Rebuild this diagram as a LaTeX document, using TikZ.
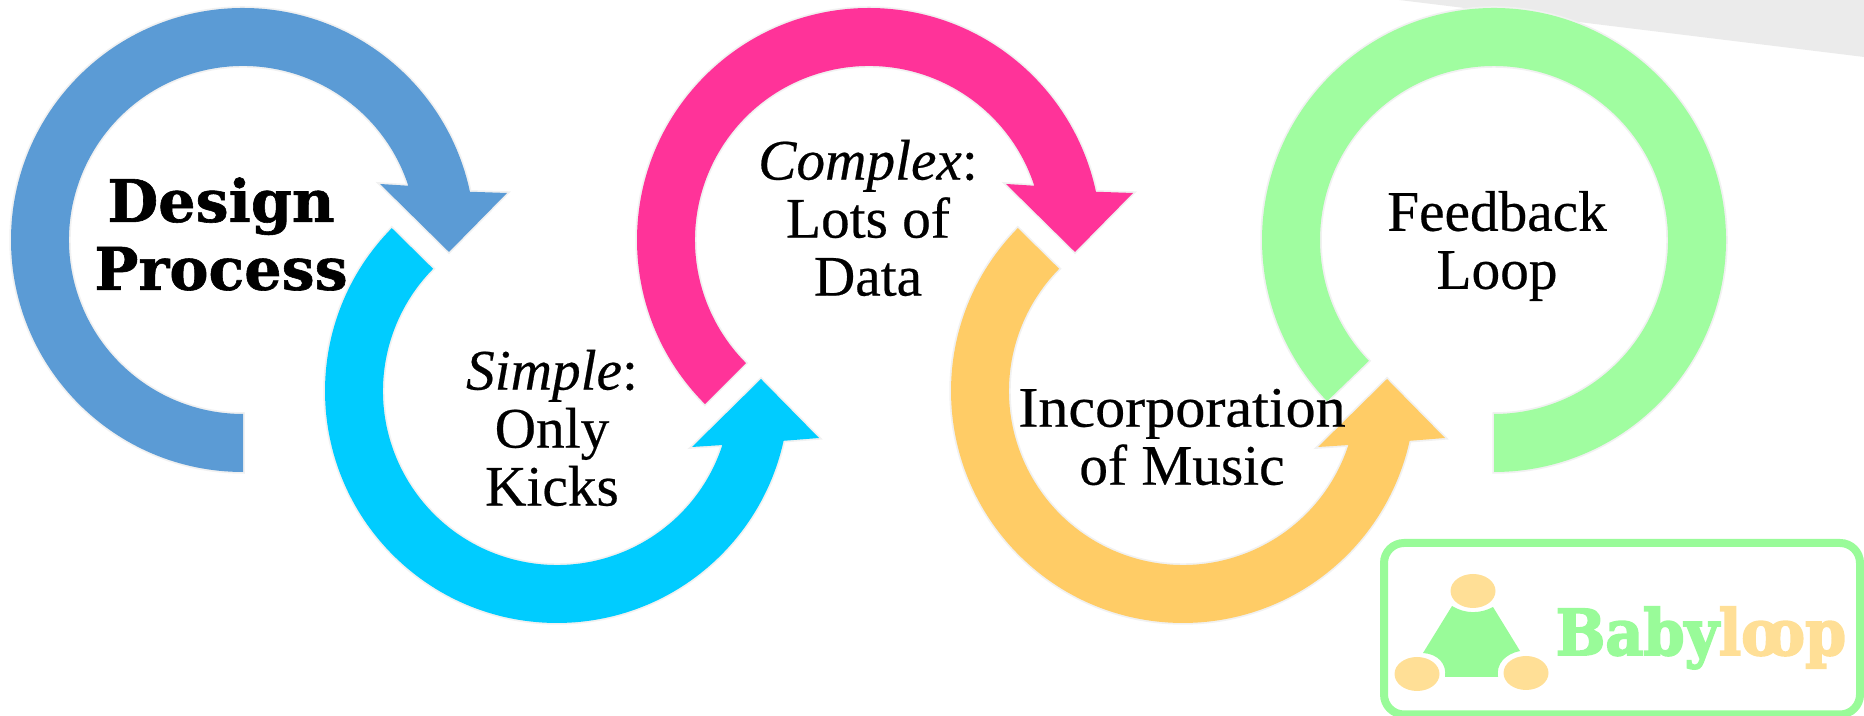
\documentclass[tikz,border=0pt]{standalone}
\usepackage{fontspec}
\setmainfont{Liberation Serif}[FakeBold=0.4]
\newfontface\heavyfont{DejaVu Serif Bold}[FakeBold=1]
\newfontface\logofont{DejaVu Serif Bold}[FakeBold=3]
\definecolor{ringblue}{HTML}{5B9BD5}
\definecolor{ringcyan}{HTML}{00CCFF}
\definecolor{ringpink}{HTML}{FF3399}
\definecolor{ringorange}{HTML}{FFCC66}
\definecolor{ringgreen}{HTML}{A0FDA0}
\definecolor{ringedge}{HTML}{F1F1F1}
\definecolor{cornergray}{HTML}{EBEBEB}
\definecolor{logogreen}{HTML}{99FB99}
\definecolor{logoyellow}{HTML}{FFDF96}
\tikzset{
	ringfill/.style={fill=#1, preaction={draw=ringedge, line width=0.35mm}},
	ringtext/.style={inner sep=0, align=center, font=\fontsize{16.3}{16.5}\selectfont},
	headtext/.style={inner sep=0, align=center, font=\heavyfont\fontsize{16.7}{19.3}\selectfont},
	logoblob/.style={fill=logoyellow, x radius=22.5, y radius=17},
}
\def\ringdown[#1](#2)(#3){\path[ringfill=#1, shift={(#2)}] (#3:232) arc (#3:12:232) -- (264, 47) -- (206, -12) -- (137, 56) -- (169, 54) -- (17.7:174) arc (17.7:#3:174) -- cycle;}
\def\ringup[#1](#2){\path[ringfill=#1, shift={(#2)}] (135.4:232) arc (135.4:347.6:232) -- (262, -47) -- (204, 12) -- (135, -56) -- (166, -54) -- (342:174) arc (342:135.4:174) -- cycle;}

\begin{document}
\begin{tikzpicture}[x=0.1mm, y=0.1mm]
		%%%%% START %%%%%
		\useasboundingbox (0, 0) rectangle (1864, 716);
		
		\fill[cornergray] (1399, 716) -- (1864, 716) -- (1864, 659) -- cycle;
		
		\ringdown[ringblue](243, 476)(270);
		\ringup[ringcyan](557, 325);
		\ringdown[ringpink](869, 476)(225);
		\ringup[ringorange](1183, 325);
		\path[ringfill=ringgreen, shift={(1494, 476)}] (270:232) arc (270:584:232) -- (224:174) arc (584:270:174) -- cycle;
		
		\node[headtext] (design) at (221, 482) {Design\\Process};
		\node[ringtext] (simple) at (552, 288) {\textit{Simple}:\\Only\\Kicks};
		\node[ringtext] (complex) at (868, 498) {\textit{Complex}:\\Lots of\\Data};
		\node[ringtext] (music) at (1182, 279) {\scalebox{1.05}[1]{Incorporation}\\of Music};
		\node[ringtext] (feedback) at (1497, 470) {Feedback\\Loop};
		
		% logo
		\draw[logogreen, line width=0.8mm, rounded corners=2mm] (1384, 173) rectangle (1860, 1.5);
		\fill[logogreen] (1452, 110) .. controls (1465, 102) and (1480, 102) .. (1493, 109) -- (1520, 65) .. controls (1505, 62) and (1496, 52) .. (1498, 39) -- (1445, 39) .. controls (1447, 52) and (1438, 62) .. (1423, 63) -- cycle;
		\fill[logoblob] (1473, 125) ellipse [];
		\fill[logoblob] (1417, 42) ellipse [];
		\fill[logoblob] (1526, 43) ellipse [];
		\node[inner sep=0, anchor=base west, xscale=0.93, font=\logofont\fontsize{18}{18}\selectfont] (babyloop) at (1555, 61) {\textcolor{logogreen}{Baby}\textcolor{logoyellow}{lo\kern-0.25em op}};
		
		%%%%% END %%%%%
	\end{tikzpicture}
\end{document}
